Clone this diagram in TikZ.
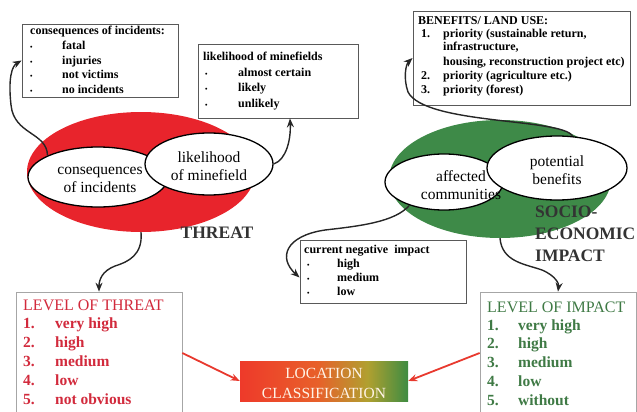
\documentclass[tikz,border=0pt]{standalone}
\usepackage{fontspec}
\setmainfont{Liberation Serif}
\usetikzlibrary{shapes.geometric,arrows.meta}
\definecolor{threatred}{HTML}{E8242C}
\definecolor{impactgreen}{HTML}{3E8A48}
\definecolor{lvlred}{HTML}{D22A3C}
\definecolor{lvlgreen}{HTML}{3F7A45}
\definecolor{darktxt}{HTML}{333333}
\definecolor{arrred}{HTML}{E8392E}
\definecolor{locred}{HTML}{EE3A2A}
\definecolor{locorange}{HTML}{E8602A}
\definecolor{locyellow}{HTML}{B0A030}
\definecolor{locgreen}{HTML}{3E8C42}
\definecolor{loctext}{HTML}{FFF3E6}
\pgfdeclarehorizontalshading{locshade}{100bp}{color(0bp)=(locred); color(25bp)=(locred); color(48bp)=(locorange); color(63bp)=(locyellow); color(75bp)=(locgreen); color(100bp)=(locgreen)}
\newcommand\mybul{{\fontsize{7}{7}\selectfont\textbullet}}
\begin{document}
\begin{tikzpicture}[x=1pt, y=-1pt,
 infobox/.style={draw=black!65, line width=0.8pt, fill=white, inner sep=0pt, rectangle},
 lvlbox/.style={draw=black!35, line width=0.7pt, fill=white, inner sep=0pt, rectangle},
 btxt/.style={anchor=base west, inner sep=0pt, font=\fontsize{12}{14}\selectfont\bfseries},
 oval/.style={ellipse, draw=black, line width=1.3pt, fill=white, inner sep=0pt},
 ovaltxt/.style={align=center, inner sep=0pt, font=\fontsize{15.5}{18}\selectfont},
 curvearrow/.style={-{Stealth[length=9pt,width=7pt]}, line width=1.4pt, black!85},
 redarrow/.style={-{Stealth[length=9pt,width=7pt]}, line width=1.8pt, arrred},
 lvltitle/.style={anchor=base west, inner sep=0pt, font=\fontsize{16}{19}\selectfont},
 lvlitem/.style={anchor=base west, inner sep=0pt, font=\fontsize{15.5}{19}\selectfont\bfseries},
 bigword/.style={inner sep=0pt, text=darktxt, font=\fontsize{17.5}{22}\selectfont\bfseries}
]
\useasboundingbox (0,0) rectangle (637,412);

% ---- big coloured ellipses
\node[ellipse, fill=threatred, minimum width=228pt, minimum height=120pt, inner sep=0pt] (red) at (141,172) {};
\node[ellipse, fill=impactgreen, minimum width=222pt, minimum height=118pt, inner sep=0pt] (green) at (500,179) {};

% ---- white ellipses
\node[oval, minimum width=140pt, minimum height=60pt] (cons) at (98,177) {};
\node[oval, minimum width=128pt, minimum height=62pt] (like) at (209,164) {};
\node[oval, minimum width=118pt, minimum height=56pt] (aff) at (444,182) {};
\node[oval, minimum width=140pt, minimum height=64pt] (pot) at (557,168) {};

\node[ovaltxt] (constxt) at (100,180) {consequences\\of incidents};
\node[ovaltxt] (liketxt) at (209,166) {likelihood\\of minefield};
\node[ovaltxt] (afftxt) at (461,185) {affected\\communities};
\node[ovaltxt] (pottxt) at (557,170) {potential\\benefits};

\node[bigword] (threat) at (217,233) {THREAT};
\node[bigword, anchor=west, align=left] (socio) at (535,233.6) {SOCIO-\\ECONOMIC\\IMPACT};

% ---- info boxes
\node[infobox, minimum width=156pt, minimum height=73pt] (box1) at (100,60.5) {};
\node[btxt] (b1t) at (30,35) {consequences of incidents:};
\node[btxt] (b1a) at (30,49.5) {\makebox[32pt][l]{\mybul}fatal};
\node[btxt] (b1b) at (30,64) {\makebox[32pt][l]{\mybul}injuries};
\node[btxt] (b1c) at (30,78.5) {\makebox[32pt][l]{\mybul}not victims};
\node[btxt] (b1d) at (30,93) {\makebox[32pt][l]{\mybul}no incidents};

\node[infobox, minimum width=160pt, minimum height=74pt] (box2) at (278,81) {};
\node[btxt] (b2t) at (203,61) {likelihood of minefields};
\node[btxt] (b2a) at (205,77) {\makebox[33pt][l]{\mybul}almost certain};
\node[btxt] (b2b) at (205,92) {\makebox[33pt][l]{\mybul}likely};
\node[btxt] (b2c) at (205,107) {\makebox[33pt][l]{\mybul}unlikely};

\node[infobox, minimum width=217pt, minimum height=94pt] (box3) at (521.5,58) {};
\node[btxt] (b3t) at (418,25) {BENEFITS/ LAND USE:};
\node[btxt] (b3a) at (421,38) {\makebox[22pt][l]{1.}priority (sustainable return,};
\node[btxt] (b3b) at (443,51) {infrastructure,};
\node[btxt] (b3c) at (443,66) {housing, reconstruction project etc)};
\node[btxt] (b3d) at (421,80) {\makebox[22pt][l]{2.}priority (agriculture etc.)};
\node[btxt] (b3e) at (421,93) {\makebox[22pt][l]{3.}priority (forest)};

\node[infobox, minimum width=166pt, minimum height=63pt] (cni) at (383,271.5) {};
\node[btxt] (cnt) at (304,253) {current negative~ impact};
\node[btxt] (cna) at (307,267) {\makebox[30pt][l]{\mybul}high};
\node[btxt] (cnb) at (307,281) {\makebox[30pt][l]{\mybul}medium};
\node[btxt] (cnc) at (307,295) {\makebox[30pt][l]{\mybul}low};

% ---- level boxes
\node[lvlbox, minimum width=166pt, minimum height=122pt] (lt) at (99,353) {};
\node[lvltitle, text=lvlred] (ltt) at (23,310) {LEVEL OF THREAT};
\node[lvlitem, text=lvlred] (lt1) at (23,328.5) {\makebox[32pt][l]{1.}very high};
\node[lvlitem, text=lvlred] (lt2) at (23,347.5) {\makebox[32pt][l]{2.}high};
\node[lvlitem, text=lvlred] (lt3) at (23,366.5) {\makebox[32pt][l]{3.}medium};
\node[lvlitem, text=lvlred] (lt4) at (23,385.5) {\makebox[32pt][l]{4.}low};
\node[lvlitem, text=lvlred] (lt5) at (23,404.5) {\makebox[32pt][l]{5.}not obvious};

\node[lvlbox, minimum width=156pt, minimum height=122pt] (li) at (558,353) {};
\node[lvltitle, text=lvlgreen] (lit) at (487,312) {LEVEL OF IMPACT};
\node[lvlitem, text=lvlgreen] (li1) at (487,330) {\makebox[31pt][l]{1.}very high};
\node[lvlitem, text=lvlgreen] (li2) at (487,348.5) {\makebox[31pt][l]{2.}high};
\node[lvlitem, text=lvlgreen] (li3) at (487,367.5) {\makebox[31pt][l]{3.}medium};
\node[lvlitem, text=lvlgreen] (li4) at (487,386) {\makebox[31pt][l]{4.}low};
\node[lvlitem, text=lvlgreen] (li5) at (487,405) {\makebox[31pt][l]{5.}without};

% ---- location classification
\node[rectangle, shading=locshade, shading angle=0, minimum width=168pt, minimum height=40pt, inner sep=0pt] (loc) at (324,381) {};
\node[align=center, inner sep=0pt, text=loctext, font=\fontsize{15.5}{20}\selectfont] (loctxt) at (324,383) {LOCATION\\CLASSIFICATION};

% ---- curved connectors
\draw[curvearrow] (cons.157) .. controls (47,132) and (14,135) .. (11,105)
  .. controls (8,78) and (12,66) .. (box1.west);
\draw[curvearrow] (like.east) .. controls (286,160) and (291,140) .. ([xshift=12pt]box2.south);
\draw[curvearrow] (pot.64) .. controls (563,118) and (425,125) .. (408,92)
  .. controls (403,78) and (406,64) .. (box3.west);
\draw[curvearrow] (aff.214) .. controls (395,222) and (360,226) .. (325,230)
  .. controls (285,236) and (278,258) .. ([yshift=-6pt]cni.west);
\draw[curvearrow] (red.south) .. controls (143,255) and (128,262) .. (115,266)
  .. controls (102,271) and (99,280) .. (lt.north);
\draw[curvearrow] (green.south) .. controls (502,262) and (525,264) .. (542,270)
  .. controls (556,276) and (559,284) .. (li.north);

% ---- red arrows
\draw[redarrow] (lt.east) -- (loc.west);
\draw[redarrow] (li.west) -- (loc.east);
\end{tikzpicture}
\end{document}
